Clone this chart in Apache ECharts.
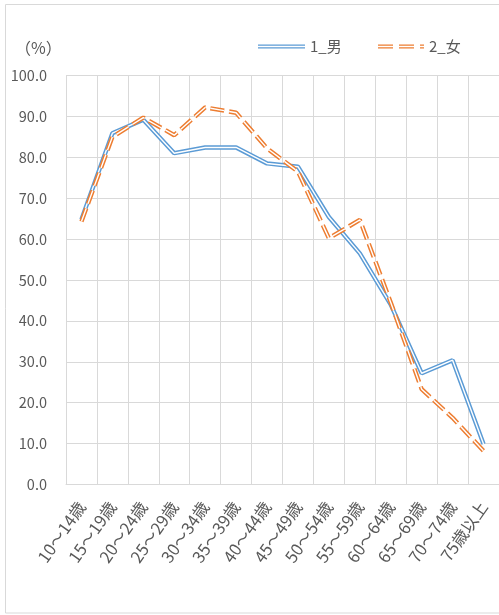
<!DOCTYPE html>
<html>
<head>
<meta charset="utf-8">
<script src="https://cdn.jsdelivr.net/npm/echarts@6/dist/echarts.min.js"></script>
<style>
  html, body { margin: 0; padding: 0; background: #fff; }
  #chart-container { width: 499px; height: 615px; }
</style>
</head>
<body>
<div id="chart-container"></div>
<script>
// 年齢階級
var ageGroups = ['10～14歳', '15～19歳', '20～24歳', '25～29歳', '30～34歳', '35～39歳',
    '40～44歳', '45～49歳', '50～54歳', '55～59歳', '60～64歳', '65～69歳', '70～74歳', '75歳以上'];
// 1_男 (%)
var maleValues = [64.8, 85.9, 89.2, 81.0, 82.4, 82.4, 78.5, 77.7, 65.4, 56.5, 44.0, 27.2, 30.4, 9.9];
// 2_女 (%)
var femaleValues = [64.3, 85.0, 89.7, 85.4, 92.2, 90.9, 82.2, 76.5, 60.2, 64.7, 44.5, 23.3, 16.3, 8.2];

var blue = '#5B9BD5';
var orange = '#ED7D31';
var textColor = '#595959';
var gridColor = '#D9D9D9';
var font = '"Noto Sans CJK JP", "Noto Sans", sans-serif';
var dash = [14, 5];

// 二重線の凡例アイコン
var maleIcon = 'path://M0,0H47V1.4H0Z M0,2.8H47V4.2H0Z';
var femaleIcon = 'path://M0,0H15V1.4H0Z M0,2.8H15V4.2H0Z M21,0H36V1.4H21Z M21,2.8H36V4.2H21Z M42,0H46V1.4H42Z M42,2.8H46V4.2H42Z';

var chart = echarts.init(document.getElementById('chart-container'));

var option = {
    animation: false,
    textStyle: { fontFamily: font },
    title: {
        text: '（%）',
        left: 10,
        top: 35,
        textStyle: { fontSize: 16, fontWeight: 'normal', color: textColor, fontFamily: font }
    },
    legend: [
        {
            data: [{ name: '1_男', icon: maleIcon }],
            left: 253,
            top: 34,
            itemWidth: 47,
            itemHeight: 4.2,
            itemStyle: { borderWidth: 0 },
            textStyle: { fontSize: 15, color: textColor, fontFamily: font }
        },
        {
            data: [{ name: '2_女', icon: femaleIcon }],
            left: 373,
            top: 34,
            itemWidth: 46,
            itemHeight: 4.2,
            itemStyle: { borderWidth: 0 },
            textStyle: { fontSize: 15, color: textColor, fontFamily: font }
        }
    ],
    grid: { left: 66, top: 75.5, width: 434, height: 409 },
    xAxis: {
        type: 'category',
        data: ageGroups,
        boundaryGap: true,
        axisLine: { lineStyle: { color: gridColor } },
        axisTick: { show: false },
        splitLine: { show: true, interval: 0, lineStyle: { color: gridColor } },
        axisLabel: { interval: 0, rotate: 55, hideOverlap: false, margin: 19, fontSize: 16.5, color: textColor, fontFamily: font }
    },
    yAxis: {
        type: 'value',
        min: 0,
        max: 100,
        interval: 10,
        axisLine: { show: false },
        axisTick: { show: false },
        splitLine: { lineStyle: { color: gridColor } },
        axisLabel: {
            margin: 19,
            fontSize: 14.5,
            color: textColor,
            fontFamily: font,
            formatter: function (v) { return v.toFixed(1); }
        }
    },
    graphic: [{
        type: 'rect',
        shape: { x: 5.5, y: 4.5, width: 600, height: 608.5 },
        style: { fill: 'none', stroke: gridColor, lineWidth: 1 },
        silent: true
    }],
    series: [
        {
            name: '1_男',
            type: 'line',
            data: maleValues,
            symbol: 'none',
            color: blue,
            lineStyle: { width: 4.4, color: blue }
        },
        {
            name: 'male-inner',
            type: 'line',
            data: maleValues,
            symbol: 'none',
            lineStyle: { width: 1.4, color: '#fff' }
        },
        {
            name: '2_女',
            type: 'line',
            data: femaleValues,
            symbol: 'none',
            color: orange,
            lineStyle: { width: 4.4, color: orange, type: dash }
        },
        {
            name: 'female-inner',
            type: 'line',
            data: femaleValues,
            symbol: 'none',
            lineStyle: { width: 1.4, color: '#fff', type: dash }
        }
    ]
};

chart.setOption(option);
</script>
</body>
</html>
